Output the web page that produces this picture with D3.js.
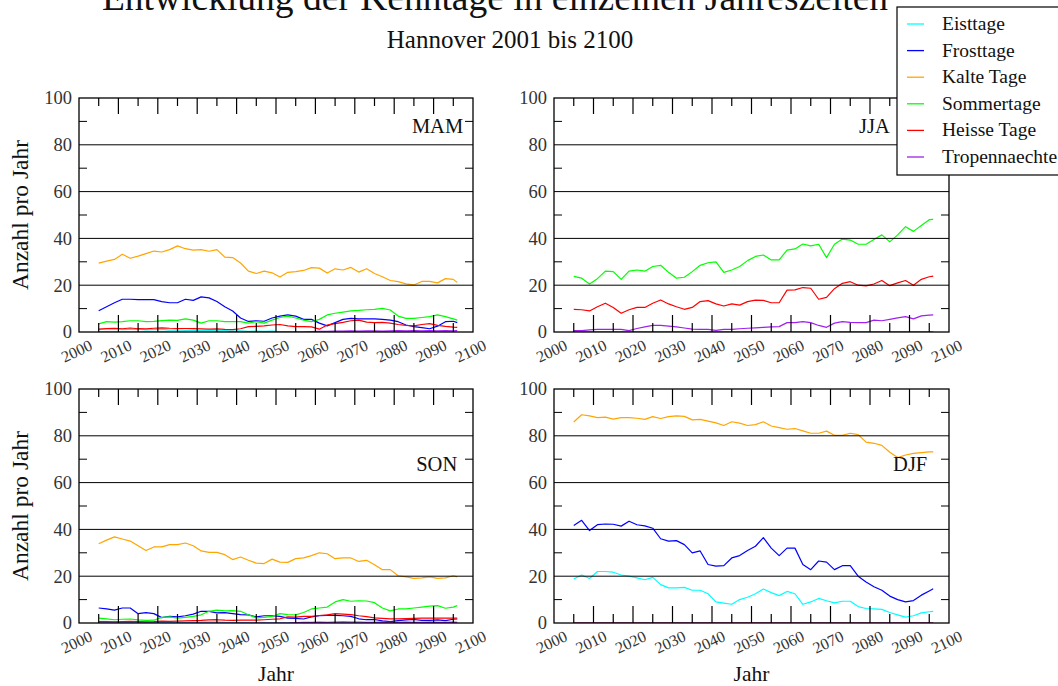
<!DOCTYPE html>
<html>
<head>
<meta charset="utf-8">
<script src="https://cdn.jsdelivr.net/npm/d3@7"></script>
<style>
  body { margin: 0; background: #fff; }
  svg { display: block; }
</style>
</head>
<body>
<svg id="chart" width="1058" height="686"></svg>
<script>
// ---- data: 10-year running means of annual counts per season, Hannover ----
const years = [2005, 2007, 2009, 2011, 2013, 2015, 2017, 2019, 2021, 2023,
               2025, 2027, 2029, 2031, 2033, 2035, 2037, 2039, 2041, 2043,
               2045, 2047, 2049, 2051, 2053, 2055, 2057, 2059, 2061, 2063,
               2065, 2067, 2069, 2071, 2073, 2075, 2077, 2079, 2081, 2083,
               2085, 2087, 2089, 2091, 2093, 2095, 2096];

const seriesNames = ["Eisttage", "Frosttage", "Kalte Tage", "Sommertage", "Heisse Tage", "Tropennaechte"];
const seriesColors = ["#00ffff", "#0000ff", "#ffa500", "#00ff00", "#ff0000", "#a020f0"];
const seasons = ["MAM", "JJA", "SON", "DJF"];

const zeros = [0, 0, 0, 0, 0, 0, 0, 0, 0, 0, 0, 0, 0, 0, 0, 0, 0, 0, 0, 0, 0, 0, 0, 0,
               0, 0, 0, 0, 0, 0, 0, 0, 0, 0, 0, 0, 0, 0, 0, 0, 0, 0, 0, 0, 0, 0, 0];

// Spring (MAM)
const mamEis = [1.0, 1.2, 1.3, 1.0, 1.1, 1.2, 0.9, 1.0, 1.1, 0.8, 0.9, 0.7, 0.8, 0.6, 0.7, 0.5, 0.6, 0.4, 0.5, 0.3,
                0.4, 0.3, 0.4, 0.2, 0.2, 0.1, 0.1, 0.1, 0, 0, 0, 0, 0, 0, 0, 0, 0, 0, 0, 0, 0, 0, 0, 0, 0, 0, 0];
const mamFrost = [9.1, 10.8, 12.5, 14.0, 14.0, 13.8, 13.8, 13.8, 13.0, 12.5, 12.5, 14.0, 13.5, 15.0, 14.6, 13.0, 10.8, 9.0, 6.0, 4.5,
                  4.8, 4.6, 6.0, 6.8, 7.3, 6.8, 5.4, 5.4, 3.8, 2.6, 4.0, 5.4, 5.8, 5.6, 5.6, 5.6, 5.4, 5.1, 4.4, 3.0,
                  2.3, 1.9, 1.4, 2.5, 4.4, 4.6, 4.0];
const mamKalt = [29.4, 30.3, 31.0, 33.2, 31.5, 32.4, 33.5, 34.6, 34.2, 35.2, 36.8, 35.6, 35.0, 35.2, 34.5, 35.2, 32.0, 31.8, 29.5, 26.0,
                 25.0, 26.0, 25.3, 23.5, 25.5, 25.8, 26.3, 27.5, 27.3, 25.2, 27.0, 26.5, 27.6, 25.6, 27.0, 25.0, 23.6, 22.0, 21.5, 20.6,
                 20.1, 21.6, 21.6, 21.0, 22.8, 22.5, 21.2];
const mamSommer = [3.5, 4.4, 4.2, 4.4, 4.8, 4.8, 4.4, 4.5, 4.9, 5.1, 5.0, 5.6, 5.1, 3.8, 4.8, 4.8, 4.4, 4.4, 4.4, 3.8,
                   4.4, 3.8, 5.1, 6.2, 6.8, 6.0, 5.1, 4.4, 5.4, 7.3, 8.0, 8.5, 9.0, 9.2, 9.5, 9.7, 10.1, 9.4, 6.8, 5.8,
                   5.8, 6.2, 6.6, 7.3, 6.6, 5.6, 5.1];
const mamHeiss = [1.2, 1.5, 1.6, 1.4, 1.7, 1.4, 1.3, 1.6, 1.8, 1.6, 1.5, 1.5, 1.4, 1.3, 1.2, 1.3, 1.1, 1.0, 1.4, 2.3,
                  2.4, 2.6, 3.0, 3.2, 2.6, 2.3, 2.3, 2.2, 1.2, 3.0, 3.6, 4.1, 4.8, 5.1, 4.2, 4.0, 4.1, 3.8, 3.2, 2.8,
                  2.6, 3.2, 3.6, 2.8, 2.4, 2.1, 2.0];
const mamTropen = [0, 0, 0, 0, 0, 0, 0, 0, 0, 0, 0, 0, 0, 0, 0, 0, 0, 0, 0, 0, 0, 0, 0, 0, 0, 0, 0,
                   0.2, 0.3, 0.3, 0.4, 0.4, 0.5, 0.4, 0.5, 0.5, 0.4, 0.5, 0.6, 0.5, 0.6, 0.5, 0.6, 0.5, 0.6, 0.5, 0.6];

// Summer (JJA)
const jjaSommer = [23.8, 23.0, 20.5, 22.8, 26.0, 25.8, 22.5, 26.0, 26.5, 26.0, 28.0, 28.5, 25.5, 23.0, 23.4, 25.8, 28.5, 29.6, 30.0, 25.5,
                   26.5, 28.0, 30.5, 32.3, 32.9, 30.8, 30.8, 35.0, 35.5, 37.6, 36.8, 37.5, 31.8, 37.5, 39.7, 39.3, 37.5, 37.5, 39.5, 41.5,
                   38.5, 41.5, 45.0, 43.0, 45.5, 48.0, 48.1];
const jjaHeiss = [9.7, 9.5, 9.0, 10.8, 12.3, 10.5, 8.0, 9.5, 10.5, 10.5, 12.3, 13.7, 12.0, 10.8, 9.7, 10.5, 13.0, 13.4, 12.0, 11.1,
                  12.0, 11.5, 13.0, 13.6, 13.5, 12.5, 12.5, 17.9, 18.0, 19.0, 18.7, 14.0, 14.8, 18.5, 20.8, 21.5, 20.0, 19.7, 20.5, 22.0,
                  19.8, 21.0, 22.0, 20.0, 22.5, 23.6, 23.9];
const jjaTropen = [0.6, 0.6, 0.9, 1.1, 1.1, 1.1, 1.1, 0.6, 1.5, 2.2, 2.8, 2.8, 2.5, 2.2, 1.7, 1.2, 1.1, 1.1, 0.7, 1.1,
                   1.1, 1.4, 1.6, 1.8, 2.0, 2.2, 2.3, 4.0, 4.0, 4.4, 4.0, 2.8, 2.0, 3.8, 4.4, 4.1, 4.0, 4.0, 5.1, 4.8,
                   5.4, 6.0, 6.6, 5.6, 6.9, 7.2, 7.3];

// Autumn (SON)
const sonEis = [0.5, 0.4, 0.5, 0.4, 0.3, 0.4, 0.3, 0.3, 0.2, 0.3, 0.2, 0.2, 0.3, 0.4, 0.5, 0.5, 0.3, 0.2, 0.2, 0.1,
                0.1, 0, 0, 0, 0, 0, 0, 0, 0, 0, 0, 0, 0, 0, 0, 0, 0, 0, 0, 0, 0, 0, 0, 0, 0, 0, 0];
const sonFrost = [6.4, 6.0, 5.5, 6.4, 6.4, 4.0, 4.4, 4.0, 2.3, 2.8, 2.6, 3.1, 3.8, 5.0, 5.0, 4.3, 4.4, 4.0, 3.6, 3.5,
                  2.6, 3.1, 3.1, 2.8, 2.1, 2.0, 1.7, 2.6, 3.1, 3.3, 3.3, 3.1, 2.8, 1.8, 1.4, 1.5, 0.9, 0.6, 1.0, 1.3,
                  1.5, 1.1, 1.1, 1.3, 1.0, 1.6, 1.7];
const sonKalt = [33.9, 35.4, 36.8, 35.9, 35.0, 33.0, 31.0, 32.5, 32.5, 33.5, 33.5, 34.2, 33.0, 30.8, 30.2, 30.2, 29.2, 27.1, 28.2, 26.8,
                 25.6, 25.4, 27.3, 26.0, 25.9, 27.5, 27.8, 28.8, 30.0, 29.6, 27.5, 27.8, 27.8, 26.3, 26.8, 24.9, 22.8, 22.8, 20.2, 19.7,
                 19.1, 19.3, 19.7, 19.1, 19.3, 20.2, 19.7];
const sonSommer = [2.1, 1.8, 1.4, 1.6, 1.7, 1.3, 1.1, 1.2, 2.4, 2.6, 2.1, 2.4, 2.8, 3.5, 5.0, 5.5, 5.2, 5.3, 5.0, 3.5,
                   2.2, 2.4, 2.8, 4.0, 3.6, 3.5, 4.5, 6.0, 6.4, 6.8, 9.0, 10.0, 9.3, 9.5, 9.4, 8.7, 6.4, 5.2, 6.0, 6.0,
                   6.4, 6.8, 7.2, 7.4, 6.3, 6.8, 7.4];
const sonHeiss = [0.6, 0.6, 0.5, 0.6, 0.7, 0.6, 0.5, 0.6, 0.8, 0.7, 0.8, 0.9, 1.0, 1.1, 1.3, 1.4, 1.2, 1.1, 1.2, 1.2,
                  1.2, 1.4, 1.6, 1.8, 2.6, 2.5, 2.8, 2.8, 3.2, 3.5, 4.0, 3.8, 3.6, 3.1, 2.7, 2.2, 2.0, 1.8, 1.8, 1.9,
                  2.0, 2.1, 2.1, 2.1, 2.1, 2.1, 2.1];
const sonTropen = [0, 0, 0, 0, 0, 0, 0, 0, 0, 0, 0, 0, 0, 0, 0, 0, 0, 0, 0, 0, 0, 0, 0, 0, 0,
                   0.2, 0.3, 0.3, 0.4, 0.3, 0.4, 0.5, 0.4, 0.4, 0.3, 0.3, 0.4, 0.3, 0.3, 0.4, 0.3, 0.3, 0.4, 0.3, 0.3, 0.4, 0.3];

// Winter (DJF)
const djfEis = [18.8, 20.5, 19.0, 22.0, 22.0, 21.7, 20.5, 20.0, 19.3, 18.5, 19.5, 16.4, 15.0, 15.0, 15.2, 14.0, 14.0, 12.5, 9.0, 8.5,
                8.0, 10.0, 11.0, 12.5, 14.5, 13.0, 11.7, 13.5, 12.5, 8.0, 9.0, 10.5, 9.5, 8.6, 9.3, 9.3, 7.0, 6.2, 6.0, 5.8,
                4.5, 3.5, 2.5, 3.1, 4.3, 4.8, 5.0];
const djfFrost = [41.7, 43.9, 39.5, 42.0, 42.3, 42.2, 41.4, 43.5, 42.0, 41.5, 40.5, 36.0, 35.0, 35.2, 33.5, 30.0, 30.8, 25.0, 24.3, 24.5,
                 27.8, 28.8, 31.0, 32.8, 36.5, 32.0, 28.8, 32.0, 32.0, 25.0, 22.8, 26.5, 26.0, 22.8, 24.5, 24.5, 20.0, 17.5, 15.5, 14.0,
                 11.5, 10.0, 9.0, 9.6, 11.9, 13.7, 14.6];
const djfKalt = [85.9, 89.0, 88.5, 87.8, 88.0, 87.1, 87.8, 87.8, 87.5, 87.0, 88.2, 87.4, 88.2, 88.5, 88.3, 86.8, 87.0, 86.3, 85.5, 84.4,
                 86.0, 85.4, 84.4, 84.8, 86.0, 84.2, 83.5, 82.8, 83.1, 82.1, 81.1, 81.1, 82.0, 80.2, 80.2, 81.1, 80.5, 77.3, 76.8, 75.9,
                 73.0, 70.7, 71.8, 72.5, 72.8, 73.1, 73.1];

// series per season, in legend order
const seasonSeries = {
  MAM: [mamEis, mamFrost, mamKalt, mamSommer, mamHeiss, mamTropen],
  JJA: [zeros, zeros, zeros, jjaSommer, jjaHeiss, jjaTropen],
  SON: [sonEis, sonFrost, sonKalt, sonSommer, sonHeiss, sonTropen],
  DJF: [djfEis, djfFrost, djfKalt, zeros, zeros, zeros]
};

const yTicks = [0, 20, 40, 60, 80, 100];
const yMinorTicks = [10, 30, 50, 70, 90];
const xTickLabels = [2000, 2010, 2020, 2030, 2040, 2050, 2060, 2070, 2080, 2090, 2100];
const xInnerTicks = [2005, 2010, 2015, 2020, 2025, 2030, 2035, 2040, 2045, 2050,
                     2055, 2060, 2065, 2070, 2075, 2080, 2085, 2090, 2095];

// ---- layout ----
const serif = "'Liberation Serif', 'Times New Roman', serif";
const svg = d3.select("#chart");
svg.append("rect").attr("width", 1058).attr("height", 686).attr("fill", "#fff");

// season label anchor: [year of right end, value of baseline]
const panels = [
  { season: "MAM", left: 79,  right: 473, top: 98,  bottom: 332, labelAt: [2097.5, 85], yTitle: true,  xTitle: false },
  { season: "JJA", left: 554, right: 949, top: 98,  bottom: 332, labelAt: [2085, 85],   yTitle: false, xTitle: false },
  { season: "SON", left: 79,  right: 473, top: 389, bottom: 623, labelAt: [2096, 65],   yTitle: true,  xTitle: true },
  { season: "DJF", left: 554, right: 949, top: 389, bottom: 623, labelAt: [2094.5, 65], yTitle: false, xTitle: true }
];

panels.forEach((p, pi) => {
  const x = d3.scaleLinear().domain([2000, 2100]).range([p.left, p.right]);
  const y = d3.scaleLinear().domain([0, 100]).range([p.bottom, p.top]);
  const g = svg.append("g");

  const clipId = "clip" + pi;
  svg.append("clipPath").attr("id", clipId)
    .append("rect").attr("x", p.left).attr("y", p.top)
    .attr("width", p.right - p.left).attr("height", p.bottom - p.top);

  // data lines
  const line = d3.line().x((d, i) => x(years[i])).y(d => y(d));
  const lines = g.append("g").attr("clip-path", `url(#${clipId})`);
  seasonSeries[p.season].forEach((vals, si) => {
    lines.append("path")
      .datum(vals)
      .attr("d", line)
      .attr("fill", "none")
      .attr("stroke", seriesColors[si])
      .attr("stroke-width", 1.2)
      .attr("stroke-linejoin", "round");
  });

  // horizontal grid lines
  g.append("g").selectAll("line")
    .data(yTicks.filter(v => v > 0 && v < 100))
    .join("line")
    .attr("x1", p.left).attr("x2", p.right)
    .attr("y1", d => y(d)).attr("y2", d => y(d))
    .attr("stroke", "#000").attr("stroke-width", 1);

  // minor y ticks on both sides
  const yt = g.append("g").attr("stroke", "#000").attr("stroke-width", 1);
  yMinorTicks.forEach(v => {
    yt.append("line").attr("x1", p.left).attr("x2", p.left + 8).attr("y1", y(v)).attr("y2", y(v));
    yt.append("line").attr("x1", p.right - 8).attr("x2", p.right).attr("y1", y(v)).attr("y2", y(v));
  });

  // x ticks on bottom (upwards) and top (downwards)
  const xt = g.append("g").attr("stroke", "#000").attr("stroke-width", 1.2);
  xInnerTicks.forEach(t => {
    const len = t % 10 === 0 ? 17 : 9;
    const lenTop = t % 10 === 0 ? 16 : 8;
    xt.append("line").attr("x1", x(t)).attr("x2", x(t)).attr("y1", p.bottom).attr("y2", p.bottom - len);
    xt.append("line").attr("x1", x(t)).attr("x2", x(t)).attr("y1", p.top).attr("y2", p.top + lenTop);
  });

  // frame
  g.append("rect")
    .attr("x", p.left).attr("y", p.top)
    .attr("width", p.right - p.left).attr("height", p.bottom - p.top)
    .attr("fill", "none").attr("stroke", "#000").attr("stroke-width", 1.3);

  // y tick labels
  g.append("g").selectAll("text")
    .data(yTicks)
    .join("text")
    .attr("x", p.left - 7)
    .attr("y", d => y(d))
    .attr("dy", "0.35em")
    .attr("text-anchor", "end")
    .attr("font-family", serif)
    .attr("font-size", 18.5)
    .attr("fill", "#333")
    .text(d => d);

  // x tick labels, slanted
  g.append("g").selectAll("text")
    .data(xTickLabels)
    .join("text")
    .attr("transform", d => `translate(${x(d)},${p.bottom + 24}) rotate(-25)`)
    .attr("text-anchor", "middle")
    .attr("font-family", serif)
    .attr("font-size", 16)
    .attr("fill", "#333")
    .text(d => d);

  // season label
  g.append("text")
    .attr("x", x(p.labelAt[0]))
    .attr("y", y(p.labelAt[1]))
    .attr("text-anchor", "end")
    .attr("font-family", serif)
    .attr("font-size", 20.5)
    .attr("fill", "#111")
    .text(p.season);

  if (p.yTitle) {
    g.append("text")
      .attr("transform", `translate(28,${(p.top + p.bottom) / 2}) rotate(-90)`)
      .attr("text-anchor", "middle")
      .attr("font-family", serif)
      .attr("font-size", 23.5)
      .attr("fill", "#111")
      .text("Anzahl pro Jahr");
  }
  if (p.xTitle) {
    g.append("text")
      .attr("x", (p.left + p.right) / 2)
      .attr("y", 681)
      .attr("text-anchor", "middle")
      .attr("font-family", serif)
      .attr("font-size", 21.5)
      .attr("fill", "#111")
      .text("Jahr");
  }
});

// titles
svg.append("text")
  .attr("x", 495).attr("y", 10)
  .attr("text-anchor", "middle")
  .attr("font-family", serif)
  .attr("font-size", 37.5)
  .attr("fill", "#111")
  .text("Entwicklung der Kenntage in einzelnen Jahreszeiten");
svg.append("text")
  .attr("x", 510).attr("y", 48)
  .attr("text-anchor", "middle")
  .attr("font-family", serif)
  .attr("font-size", 25)
  .attr("fill", "#111")
  .text("Hannover 2001 bis 2100");

// legend
const legend = svg.append("g");
legend.append("rect")
  .attr("x", 897).attr("y", 7).attr("width", 175).attr("height", 168)
  .attr("fill", "#fff").attr("stroke", "#000").attr("stroke-width", 1.2);
seriesNames.forEach((name, i) => {
  const ly = 24 + i * 26.6;
  legend.append("line")
    .attr("x1", 907).attr("x2", 924).attr("y1", ly).attr("y2", ly)
    .attr("stroke", seriesColors[i]).attr("stroke-width", 1.3);
  legend.append("text")
    .attr("x", 942).attr("y", ly + 6)
    .attr("font-family", serif)
    .attr("font-size", 19.5)
    .attr("fill", "#111")
    .text(name);
});
</script>
</body>
</html>
